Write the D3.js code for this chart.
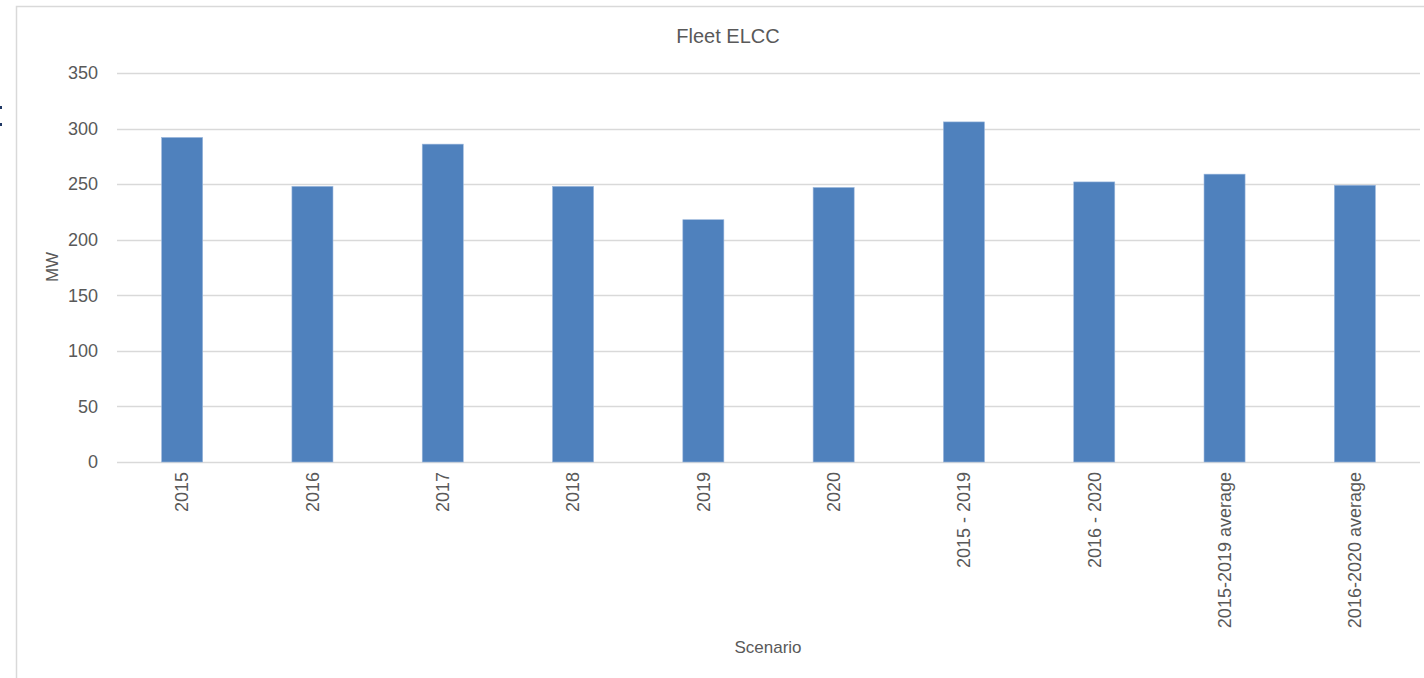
<!DOCTYPE html>
<html>
<head>
<meta charset="utf-8">
<script src="https://cdn.jsdelivr.net/npm/d3@7/dist/d3.min.js"></script>
<style>
  html, body { margin: 0; padding: 0; background: #fff; }
  svg { display: block; font-family: "Liberation Sans", Arial, sans-serif; }
</style>
</head>
<body>
<script>
// Scenario categories and their fleet ELCC values (MW)
const categories = ["2015", "2016", "2017", "2018", "2019", "2020",
  "2015 - 2019", "2016 - 2020", "2015-2019 average", "2016-2020 average"];
const elccMW = [292, 248, 286, 248, 218, 247, 306, 252, 259, 249];
const yTicks = [0, 50, 100, 150, 200, 250, 300, 350];

const W = 1424, H = 678;
const margin = { left: 117, right: 4, top: 73, bottom: 216 };
const textColor = "#595959";
const gridColor = "#d9d9d9";
const barColor = "#4f81bd";

const svg = d3.select("body").append("svg")
  .attr("width", W).attr("height", H);

// chart frame (left and top edges visible)
svg.append("path")
  .attr("d", `M16.5,${H} V6.5 H${W}`)
  .attr("fill", "none")
  .attr("stroke", gridColor)
  .attr("stroke-width", 1.5);

// small marks at the far left edge
svg.append("rect").attr("x", 0).attr("y", 106).attr("width", 2).attr("height", 3).attr("fill", "#1f3864");
svg.append("rect").attr("x", 0).attr("y", 123).attr("width", 2).attr("height", 3).attr("fill", "#1f3864");

const x = d3.scaleBand()
  .domain(categories)
  .range([margin.left, W - margin.right])
  .paddingInner(0.685)
  .paddingOuter(0.3425);

const y = d3.scaleLinear()
  .domain([0, 350])
  .range([H - margin.bottom, margin.top]);

// horizontal gridlines
svg.append("g")
  .selectAll("line")
  .data(yTicks)
  .join("line")
  .attr("x1", margin.left)
  .attr("x2", W - margin.right)
  .attr("y1", d => Math.round(y(d)) + 0.5)
  .attr("y2", d => Math.round(y(d)) + 0.5)
  .attr("stroke", gridColor)
  .attr("stroke-width", 1.3);

// y axis tick labels
const yAxis = d3.axisLeft(y).tickValues(yTicks).tickSize(0).tickPadding(0);
const gy = svg.append("g")
  .attr("transform", `translate(${margin.left - 19},0)`)
  .call(yAxis);
gy.select(".domain").remove();
gy.selectAll("text")
  .attr("fill", textColor)
  .style("font-size", "18px")
  .style("font-family", "'Liberation Sans', Arial, sans-serif");

// bars
svg.append("g")
  .selectAll("rect")
  .data(categories)
  .join("rect")
  .attr("x", d => x(d))
  .attr("width", x.bandwidth())
  .attr("y", (d, i) => y(elccMW[i]))
  .attr("height", (d, i) => y(0) - y(elccMW[i]))
  .attr("fill", barColor)
  .attr("stroke", "#9bb7dc")
  .attr("stroke-width", 0.6);

// x axis with rotated category labels
const xAxis = d3.axisBottom(x).tickSize(0).tickPadding(0);
const gx = svg.append("g")
  .attr("transform", `translate(0,${y(0)})`)
  .call(xAxis);
gx.select(".domain").remove();
gx.selectAll("text")
  .attr("fill", textColor)
  .style("font-size", "18px")
  .style("font-family", "'Liberation Sans', Arial, sans-serif")
  .attr("transform", "rotate(-90)")
  .attr("text-anchor", "end")
  .attr("x", -10)
  .attr("y", 0)
  .attr("dy", "0.35em");

// title
svg.append("text")
  .attr("x", 728).attr("y", 43)
  .attr("text-anchor", "middle")
  .attr("fill", textColor)
  .style("font-size", "20px")
  .text("Fleet ELCC");

// y axis title
svg.append("text")
  .attr("transform", "translate(58,267) rotate(-90)")
  .attr("text-anchor", "middle")
  .attr("fill", textColor)
  .style("font-size", "17px")
  .text("MW");

// x axis title
svg.append("text")
  .attr("x", 768).attr("y", 653)
  .attr("text-anchor", "middle")
  .attr("fill", textColor)
  .style("font-size", "17px")
  .text("Scenario");
</script>
</body>
</html>
